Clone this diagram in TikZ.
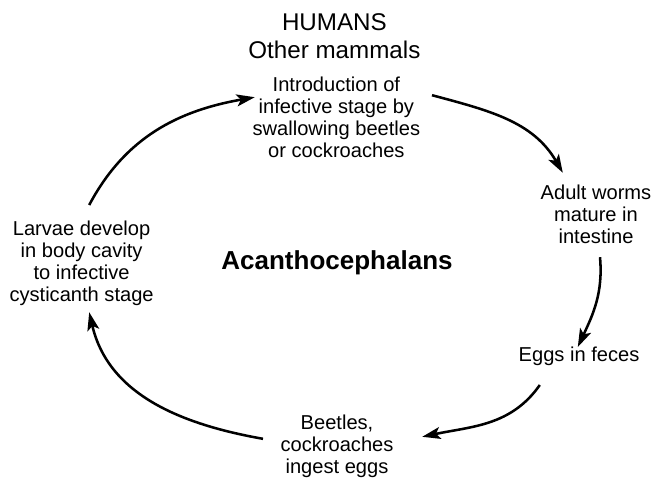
\documentclass[tikz,border=0pt]{standalone}
\usepackage{fontspec}
\setmainfont{Liberation Sans}
\usetikzlibrary{arrows.meta,positioning,calc}

\begin{document}
\begin{tikzpicture}[>={Stealth[length=13pt,width=8.5pt,inset=3pt]}, line width=1.8pt,
    stage/.style={align=center, inner sep=0pt, font=\fontsize{14.3}{15.6}\selectfont},
    lifearrow/.style={->, line width=1.8pt}]
  \useasboundingbox (0,0) rectangle (16.35,12);
  % hosts and stages
  \node[align=center, inner sep=0pt, font=\fontsize{17.2}{19.85}\selectfont] (hosts) at (8.36,11.09) {HUMANS\\Other mammals};
  \node[stage] (intro) at (8.41,9.06) {Introduction of\\infective stage by\\swallowing beetles\\or cockroaches};
  \node[stage] (adult) at (14.9,6.65) {Adult worms\\mature in\\intestine};
  \node[stage] (eggs) at (14.475,3.085) {Eggs in feces};
  \node[stage] (beetles) at (8.425,0.85) {Beetles,\\cockroaches\\ingest eggs};
  \node[stage] (larvae) at (2.04,5.425) {Larvae develop\\in body cavity\\to infective\\cysticanth stage};
  \node[anchor=base, inner sep=0pt, font=\fontsize{18.5}{20}\selectfont\bfseries] (name) at (8.425,5.275) {Acanthocephalans};
  % life cycle
  \draw[lifearrow] ([shift={(0.19,1.45)}]larvae.center) to[out=62,in=190] ([shift={(-2.04,0.51)}]intro.center);
  \draw[lifearrow] ([shift={(2.39,0.56)}]intro.center) to[out=-15,in=120] ([shift={(-0.83,1.03)}]adult.center);
  \draw[lifearrow] ([shift={(0.1,-1.08)}]adult.center) to[out=-85,in=65] ([shift={(-0.03,0.24)}]eggs.center);
  \draw[lifearrow] ([shift={(-0.98,-0.71)}]eggs.center) to[out=-125,in=12] ([shift={(2.13,0.23)}]beetles.center);
  \draw[lifearrow] ([shift={(-1.85,0.18)}]beetles.center) to[out=170,in=-77] ([shift={(0.19,-1.23)}]larvae.center);
\end{tikzpicture}
\end{document}
